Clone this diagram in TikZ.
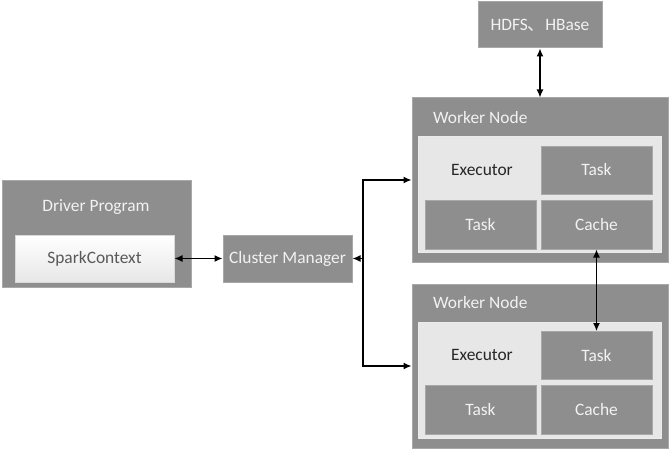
\documentclass[tikz,border=0pt]{standalone}
\usepackage{fontspec}
\setmainfont{Carlito}
\newfontfamily\cjk{Noto Sans CJK SC}
\usetikzlibrary{arrows.meta,positioning,calc}

\definecolor{boxgray}{RGB}{142,142,142}
\definecolor{edgegray}{RGB}{168,168,168}
\definecolor{panelgray}{RGB}{231,231,231}

\begin{document}
\begin{tikzpicture}[x=1pt, y=-1pt,
    graybox/.style={draw=edgegray, line width=1pt, fill=boxgray, text=white!95!black,
      font=\fontsize{17.4}{20}\selectfont, inner sep=0pt},
    panel/.style={draw=white!92!black, line width=1pt, fill=panelgray, inner sep=0pt},
    title/.style={text=white!95!black, font=\fontsize{17.4}{20}\selectfont, inner sep=0pt},
    link/.style={line width=1.3pt, black, {Latex[length=8pt,width=7pt]}-{Latex[length=8pt,width=7pt]}},
    onelink/.style={line width=1.3pt, black, -{Latex[length=8pt,width=7pt]}}]
    \useasboundingbox (0,0) rectangle (670,452);

    % Driver program
    \node[graybox, minimum width=189pt, minimum height=107pt] (driver) at (96.5,233.5) {};
    \node[title] (drivertitle) at (96,207) {Driver Program};
    \node[draw=white!85!black, line width=1pt, top color=white, bottom color=panelgray,
      text=black!65, font=\fontsize{17.4}{20}\selectfont,
      minimum width=159pt, minimum height=47pt, inner sep=0pt] (spark) at (94.5,258.5) {SparkContext};

    % Cluster manager
    \node[graybox, minimum width=129pt, minimum height=47pt] (cm) at (287.5,258.5) {Cluster Manager};

    % Storage
    \node[graybox, minimum width=124pt, minimum height=46pt] (hdfs) at (540,25) {HDFS{\cjk 、}HBase};

    % Worker node 1
    \node[graybox, minimum width=256pt, minimum height=164pt] (w1) at (540,180) {};
    \node[title, anchor=west] (w1title) at (433,118) {Worker Node};
    \node[panel, minimum width=243pt, minimum height=116pt] (e1) at (539.5,194) {};
    \node[font=\fontsize{17.4}{20}\selectfont, text=black!85] (e1text) at (482,170) {Executor};
    \node[graybox, minimum width=111pt, minimum height=48pt] (t1a) at (596.5,170) {Task};
    \node[graybox, minimum width=111pt, minimum height=49pt] (t1b) at (480.5,224.5) {Task};
    \node[graybox, minimum width=111pt, minimum height=49pt] (c1) at (596.5,224.5) {Cache};

    % Worker node 2
    \node[graybox, minimum width=256pt, minimum height=164pt] (w2) at (540,366) {};
    \node[title, anchor=west] (w2title) at (433,303) {Worker Node};
    \node[panel, minimum width=243pt, minimum height=116pt] (e2) at (539.5,380) {};
    \node[font=\fontsize{17.4}{20}\selectfont, text=black!85] (e2text) at (482,355) {Executor};
    \node[graybox, minimum width=111pt, minimum height=48pt] (t2a) at (596.5,355.5) {Task};
    \node[graybox, minimum width=111pt, minimum height=49pt] (t2b) at (480.5,410) {Task};
    \node[graybox, minimum width=111pt, minimum height=49pt] (c2) at (596.5,410) {Cache};

    % Connections
    \draw[link] (spark.east) -- (cm.west);
    \draw[link] (hdfs.south) -- (w1.north);
    \draw[link] (c1.south) -- (t2a.north);
    \coordinate (split) at (363,258.5);
    \draw[onelink] (split) -- (cm.east);
    \draw[onelink] (split) |- (w1.west);
    \draw[onelink] (split) |- (w2.west);
\end{tikzpicture}
\end{document}
